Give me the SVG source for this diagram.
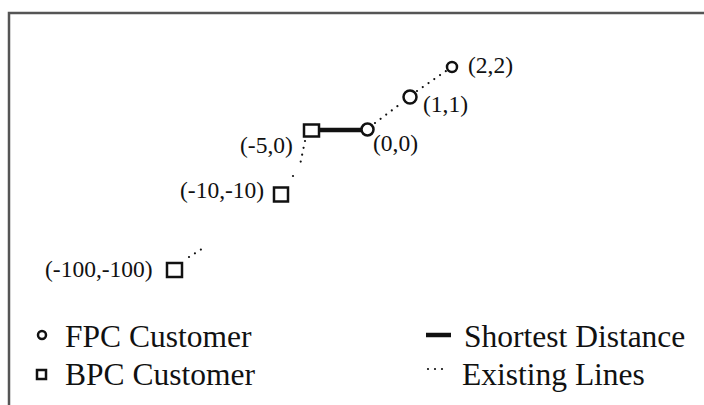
<svg xmlns="http://www.w3.org/2000/svg" width="704" height="405" viewBox="0 0 704 405">
<style>
.lbl{font-family:"Liberation Serif",serif;font-size:23.5px;fill:#111}
.leg{font-family:"Liberation Serif",serif;font-size:31.5px;fill:#111}
.fpc{fill:none;stroke:#111;stroke-width:2.5}
.bpc{fill:none;stroke:#111;stroke-width:2.5}
.dot{stroke:#111;stroke-width:2.2;stroke-linecap:round;stroke-dasharray:0 7;fill:none}
.thick{stroke:#111;stroke-width:4.5;stroke-linecap:butt}
</style>
<rect width="704" height="405" fill="#fff"/>
<path d="M9 405 V13 H704" fill="none" stroke="#555" stroke-width="2.5"/>
<g id="connectors">
<line class="dot" x1="375" y1="123" x2="403" y2="102"/>
<line class="dot" x1="417" y1="91" x2="446" y2="71"/>
<line class="thick" x1="319" y1="130" x2="361" y2="130"/>
<line class="dot" x1="305" y1="141" x2="300" y2="165" stroke-dasharray="0 8"/>
<line class="dot" x1="293" y1="176" x2="293" y2="176"/>
<line class="dot" x1="189" y1="257" x2="205" y2="247" stroke-dasharray="0 9"/>
</g>
<g id="n22"><circle class="fpc" cx="452" cy="67" r="5"/><text class="lbl" x="468" y="73">(2,2)</text></g>
<g id="n11"><circle class="fpc" cx="410" cy="97" r="6.5"/><text class="lbl" x="423" y="112">(1,1)</text></g>
<g id="n00"><circle class="fpc" cx="367.5" cy="129.5" r="6"/><text class="lbl" x="373" y="151">(0,0)</text></g>
<g id="nm50"><rect class="bpc" x="304" y="124.5" width="15" height="12"/><text class="lbl" x="240" y="153">(-5,0)</text></g>
<g id="nm10"><rect class="bpc" x="274" y="187.5" width="14" height="14"/><text class="lbl" x="180" y="198">(-10,-10)</text></g>
<g id="nm100"><rect class="bpc" x="167" y="263" width="15" height="14"/><text class="lbl" x="45" y="277">(-100,-100)</text></g>
<g id="legend">
<circle class="fpc" cx="42" cy="335" r="4" stroke-width="2.2"/>
<text class="leg" x="65" y="347">FPC Customer</text>
<rect class="bpc" x="37" y="370" width="9" height="9" stroke-width="2.2"/>
<text class="leg" x="65" y="385">BPC Customer</text>
<line class="thick" x1="426" y1="335" x2="451" y2="335" stroke-width="5" stroke-linecap="round"/>
<line class="dot" x1="428" y1="369" x2="446" y2="369" stroke-width="2" stroke-dasharray="0 9"/>
<text class="leg" x="464" y="347">Shortest Distance</text>
<text class="leg" x="462" y="385">Existing Lines</text>
</g>
</svg>
